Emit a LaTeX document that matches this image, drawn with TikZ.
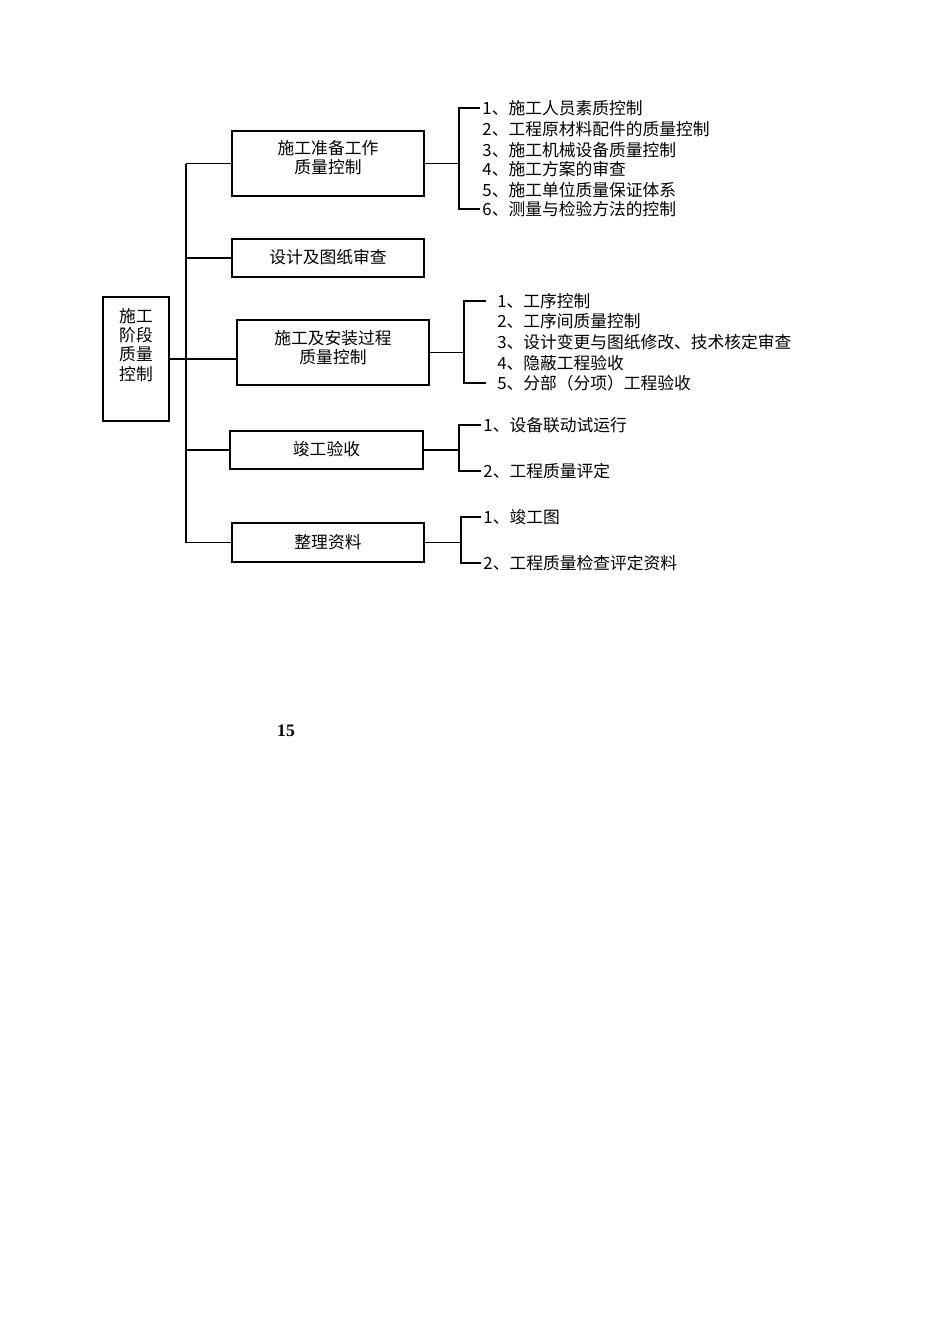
\documentclass[tikz,border=0pt]{standalone}
\usepackage{fontspec}
\setmainfont{Liberation Serif}
\newfontfamily\cjk{Noto Sans CJK SC}
\usepackage{tikz}
\newcommand{\px}{0.6266pt}

\begin{document}
\begin{tikzpicture}[x=\px, y=-\px, line width=1.1pt,
  box/.style={draw, rectangle, inner sep=0pt},
  txt/.style={font=\cjk\fontsize{10.5pt}{12pt}\selectfont, align=center, inner sep=0pt},
  item/.style={font=\cjk\fontsize{10.5pt}{12pt}\selectfont, anchor=west, inner ysep=0pt, inner xsep=1pt},
  pagenum/.style={font=\bfseries\fontsize{11pt}{13pt}\selectfont}]
\useasboundingbox (0,0) rectangle (950,1344);

\node[box, minimum width=66*\px, minimum height=124*\px] (main) at (136,359) {};
\node[txt] (maint) at (136,345) {施工\\阶段\\质量\\控制};

\node[box, minimum width=192*\px, minimum height=65*\px] (prep) at (328,163.5) {};
\node[txt] (prept) at (328,157.5) {施工准备工作\\质量控制};
\node[box, minimum width=192*\px, minimum height=38*\px] (design) at (328,258) {};
\node[txt] (designt) at (328,257) {设计及图纸审查};
\node[box, minimum width=192*\px, minimum height=65*\px] (proc) at (333,352.5) {};
\node[txt] (proct) at (333,347.5) {施工及安装过程\\质量控制};
\node[box, minimum width=193*\px, minimum height=38*\px] (accept) at (326.5,450) {};
\node[txt] (acceptt) at (326.5,449) {竣工验收};
\node[box, minimum width=192*\px, minimum height=39*\px] (tidy) at (328,542.5) {};
\node[txt] (tidyt) at (328,542) {整理资料};

\coordinate (tr) at (186,0);
\draw (prep.west -| tr) -- (tidy.west -| tr);
\draw (prep.west -| tr) -- (prep.west);
\draw (design.west -| tr) -- (design.west);
\draw (main.east) -- (main.east -| proc.west);
\draw (accept.west -| tr) -- (accept.west);
\draw (tidy.west -| tr) -- (tidy.west);

\node[item] (p1) at (480,108) {1、施工人员素质控制};
\node[item] (p2) at (480,129) {2、工程原材料配件的质量控制};
\node[item] (p3) at (480,150) {3、施工机械设备质量控制};
\node[item] (p4) at (480,169) {4、施工方案的审查};
\node[item] (p5) at (480,190) {5、施工单位质量保证体系};
\node[item] (p6) at (480,209) {6、测量与检验方法的控制};
\coordinate (pb) at (459,0);
\draw (prep.east) -- (prep.east -| pb);
\draw (p1.west) -- (p1.west -| pb) -- (p6.west -| pb) -- (p6.west);

\node[item, inner xsep=6.5pt] (q1) at (486,300.7) {1、工序控制};
\node[item, inner xsep=6.5pt] (q2) at (486,321) {2、工序间质量控制};
\node[item, inner xsep=6.5pt] (q3) at (486,342) {3、设计变更与图纸修改、技术核定审查};
\node[item, inner xsep=6.5pt] (q4) at (486,363) {4、隐蔽工程验收};
\node[item, inner xsep=6.5pt] (q5) at (486,383) {5、分部（分项）工程验收};
\coordinate (qb) at (464,0);
\draw (proc.east) -- (proc.east -| qb);
\draw (q1.west) -- (q1.west -| qb) -- (q5.west -| qb) -- (q5.west);

\node[item] (r1) at (481,425) {1、设备联动试运行};
\node[item] (r2) at (481,470.7) {2、工程质量评定};
\coordinate (rb) at (459,0);
\draw (accept.east) -- (accept.east -| rb);
\draw (r1.west) -- (r1.west -| rb) -- (r2.west -| rb) -- (r2.west);

\node[item] (s1) at (481,517) {1、竣工图};
\node[item] (s2) at (481,563) {2、工程质量检查评定资料};
\coordinate (sb) at (461,0);
\draw (tidy.east) -- (tidy.east -| sb);
\draw (s1.west) -- (s1.west -| sb) -- (s2.west -| sb) -- (s2.west);

\node[pagenum] (pg) at (286,730.5) {15};
\end{tikzpicture}
\end{document}
